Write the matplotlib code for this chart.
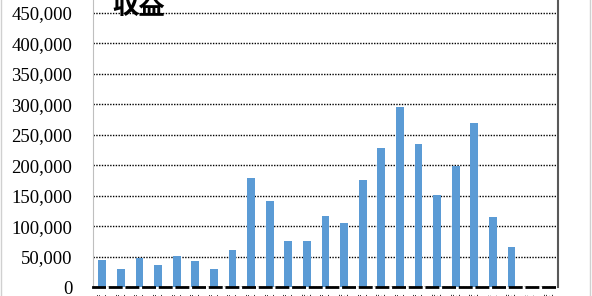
import matplotlib
matplotlib.use("Agg")
import matplotlib.pyplot as plt
from matplotlib.patches import Rectangle

categories = ["平成%d年度" % y for y in range(1, 26)]
values = [44000, 30000, 48000, 36000, 51000, 43000, 30000, 61000, 179000, 141000,
          75000, 75000, 116000, 105000, 176000, 228000, 296000, 235000, 151000, 199000,
          269000, 115000, 66000, 0, 0]
yticks = list(range(0, 450001, 50000))
title = "収益"

fig = plt.figure(figsize=(5.92, 2.96), dpi=100)
ax = fig.add_axes([93/592, 1-287/296, (558-93)/592, 287/296])

x = list(range(len(categories)))
ax.bar(x, values, width=0.42, color="#5B9BD5", zorder=3)
ax.set_xlim(-0.5, len(categories)-0.5)
ax.set_ylim(0, 450000 * 287/274)
ax.set_yticks(yticks)
ax.set_yticklabels([f"{v:,}" for v in yticks], family="Liberation Serif", fontsize=13.5)
ax.tick_params(axis="y", length=0, pad=15)
ax.set_xticks(x)
ax.set_xticklabels(categories, rotation=90, family=["Noto Sans CJK JP", "DejaVu Sans"], fontsize=8, va="top")
ax.tick_params(axis="x", length=0, pad=4)
ax.yaxis.grid(True, linestyle=(0, (1, 1)), color="black", linewidth=1.0, zorder=1)
ax.spines["top"].set_visible(False)
ax.spines["left"].set_color("#bfbfbf")
ax.spines["right"].set_color("#595959")
ax.spines["right"].set_linewidth(1.5)
ax.spines["bottom"].set_linestyle((0, (4, 2)))
ax.spines["bottom"].set_linewidth(2)
ax.spines["bottom"].set_color("black")
ax.spines["bottom"].set_zorder(4)

fig.text(112/592, 1-14/296, title, family=["Noto Sans CJK JP", "DejaVu Sans"], fontsize=19,
         fontweight="bold", va="baseline", ha="left")

fig.patches.append(Rectangle((0.002, -0.01), 0.994, 1.02, transform=fig.transFigure,
                             fill=False, edgecolor="#d0d0d0", linewidth=1))

fig.savefig("out.png", dpi=100)
